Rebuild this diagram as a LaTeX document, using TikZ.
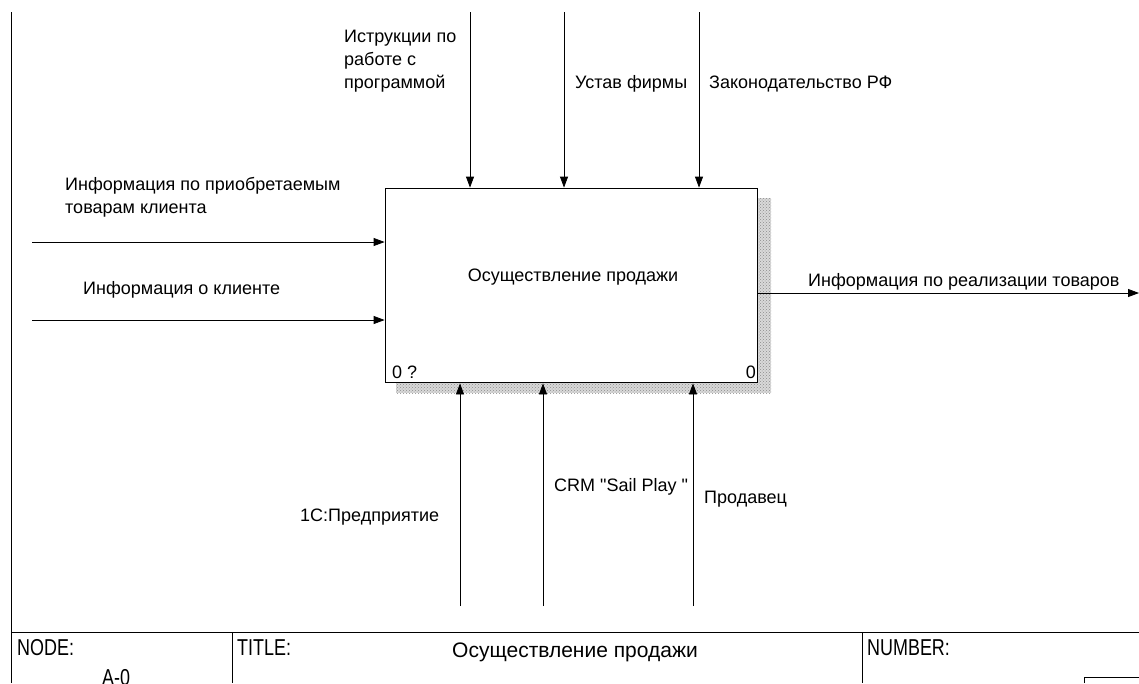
\documentclass[tikz,border=0pt]{standalone}
\usepackage{fontspec}
\usepackage{graphicx}
\setmainfont{Liberation Sans}[Ligatures=TeXOff]
\usetikzlibrary{arrows.meta,patterns}
\newcommand\frtext[1]{\scalebox{0.78}[1]{#1}}
\begin{document}
\begin{tikzpicture}[x=1pt,y=-1pt,
  lbl/.style={font=\fontsize{18}{23}\selectfont, inner sep=0pt, align=left},
  ftxt/.style={font=\fontsize{23}{26}\selectfont, inner sep=0pt},
  arr/.style={-{Triangle[length=11pt,width=8pt]}, line width=0.8pt},
  frm/.style={line width=0.8pt},
  boxst/.style={draw, line width=1.8pt, fill=white, minimum width=372pt, minimum height=194pt, inner sep=0pt}]
\useasboundingbox (0,0) rectangle (1139,683);
% frame
\draw[frm] (11,12) -- (11,683);
\draw[frm] (11,632) -- (1139,632);
\draw[frm] (232,632) -- (232,683);
\draw[frm] (862,632) -- (862,683);
\draw[frm] (1084,683) -- (1084,677) -- (1139,677);
\node[ftxt, anchor=base west] (nodelbl) at (17,655) {\frtext{NODE:}};
\node[ftxt, anchor=base west] (nodeval) at (102,685) {\frtext{A-0}};
\node[ftxt, anchor=base west] (titlelbl) at (237,655) {\frtext{TITLE:}};
\node[font=\fontsize{21}{24}\selectfont, inner sep=0pt, anchor=base west] (titleval) at (452,657) {Осуществление продажи};
\node[ftxt, anchor=base west] (numlbl) at (867,655) {\frtext{NUMBER:}};
% shadow and box
\fill[gray!30] (396,198) rectangle (771,393);
\fill[pattern=crosshatch dots, pattern color=gray!90] (396,198) rectangle (771,393);
\node[boxst] (box) at (571.5,285.5) {};
\node[lbl, anchor=base] (boxname) at (573,281) {Осуществление продажи};
\node[lbl, anchor=base west] (boxnum1) at (392,378) {0 ?};
\node[lbl, anchor=base east] (boxnum2) at (756,378) {0};
% controls
\coordinate (t1) at (470,12);
\coordinate (t2) at (564,12);
\coordinate (t3) at (699,12);
\draw[arr] (t1) -- (t1 |- box.north);
\draw[arr] (t2) -- (t2 |- box.north);
\draw[arr] (t3) -- (t3 |- box.north);
\node[lbl, anchor=north west] (c1) at (344,30) {Иструкции по\\работе с\\программой};
\node[lbl, anchor=base west] (c2) at (575,88) {Устав фирмы};
\node[lbl, anchor=base west] (c3) at (709,88) {Законодательство РФ};
% inputs
\coordinate (l1) at (32,242);
\coordinate (l2) at (32,320);
\draw[arr] (l1) -- (l1 -| box.west);
\draw[arr] (l2) -- (l2 -| box.west);
\node[lbl, anchor=north west] (i1) at (65,177) {Информация по приобретаемым\\товарам клиента};
\node[lbl, anchor=base west] (i2) at (83,294) {Информация о клиенте};
% output
\coordinate (r1) at (1139,293);
\draw[arr] (box.east |- r1) -- (r1);
\node[lbl, anchor=base west] (o1) at (808,286) {Информация по реализации товаров};
% mechanisms
\coordinate (b1) at (460,606);
\coordinate (b2) at (543,606);
\coordinate (b3) at (693,606);
\draw[arr] (b1) -- (b1 |- box.south);
\draw[arr] (b2) -- (b2 |- box.south);
\draw[arr] (b3) -- (b3 |- box.south);
\node[lbl, anchor=base west] (m1) at (300,521) {1С:Предприятие};
\node[lbl, anchor=base west] (m2) at (554,491) {CRM "Sail Play "};
\node[lbl, anchor=base west] (m3) at (704,503) {Продавец};
\end{tikzpicture}
\end{document}
